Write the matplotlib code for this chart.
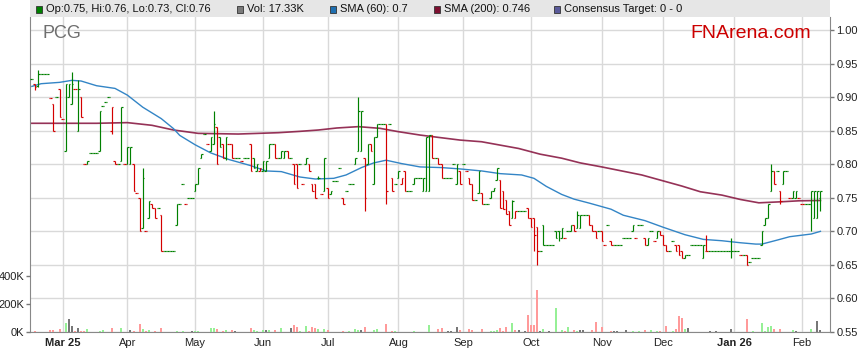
import matplotlib
matplotlib.use("Agg")
import matplotlib.pyplot as plt
from matplotlib.patches import Rectangle
import numpy as np
import pandas as pd

plt.rcParams['font.family'] = ['Liberation Sans', 'DejaVu Sans']

ticker = "PCG"
first_day = "2025-02-17"   # one bar per weekday from here

# daily OHLC
opens = [
    .927, .920, .917, .935, .935, .935, .898, .890, .900, .912,
    .868, .820, .900, .890, .912, .850, .900, .800, .800, .816,
    .816, .816, .820, .887, .893, .900, .850, .805, .800, .805,
    .800, .800, .800, .800, .757, .750, .705, .700, .720, .740,
    .735, .735, .725, .670, .670, .670, .670, .710, .740, .770,
    .740, .750, .750, .760, .770, .810, .845, .830, .820, .830,
    .855, .840, .830, .810, .830, .830, .809, .809, .805, .809,
    .809, .830, .810, .790, .790, .790, .790, .810, .830, .830,
    .809, .809, .809, .820, .809, .800, .800, .800, .770, .800,
    .800, .770, .770, .780, .755, .760, .765, .755, .775, .775,
    .794, .750, .760, .770, .770, .800, .820, .820, .810, .800,
    .830, .770, .840, .860, .860, .860, .860, .780, .770, .780,
    .770, .790, .760, .760, .770, .780, .780, .760, .760, .760,
    .843, .810, .810, .800, .780, .780, .780, .800, .770, .790,
    .800, .790, .780, .770, .746, .757, .757, .740, .740, .750,
    .760, .776, .776, .760, .746, .730, .720, .720, .731, .731,
    .731, .735, .720, .720, .706, .670, .710, .680, .680, .680,
    .700, .700, .690, .690, .700, .700, .710, .705, .705, .725,
    .725, .725, .710, .700, .700, .700, .680, .710, .685, .680,
    .680, .680, .690, .690, .690, .700, .690, .710, .710, .690,
    .680, .700, .686, .690, .700, .694, .680, .670, .686, .680,
    .680, .670, .660, .665, .680, .680, .680, .680, .660, .670,
    .670, .670, .670, .670, .670, .670, .670, .670, .670, .670,
    .665, .665, .665, .655, .660, .660, .660, .680, .710, .720,
    .760, .790, .790, .760, .770, .790, .750, .750, .750, .750,
    .740, .740, .740, .740, .720, .720, .750,
]
highs = [
    .927, .920, .940, .935, .935, .935, .898, .890, .900, .912,
    .868, .920, .920, .937, .912, .925, .900, .800, .805, .816,
    .816, .816, .880, .887, .893, .900, .885, .805, .800, .885,
    .800, .825, .825, .800, .757, .750, .795, .700, .745, .740,
    .735, .735, .725, .670, .670, .670, .670, .740, .740, .770,
    .740, .750, .750, .770, .795, .815, .845, .830, .840, .880,
    .855, .840, .830, .840, .830, .830, .809, .809, .805, .809,
    .809, .830, .810, .800, .795, .805, .805, .830, .830, .830,
    .809, .820, .820, .820, .809, .800, .800, .800, .770, .810,
    .800, .770, .770, .782, .755, .810, .765, .760, .775, .775,
    .794, .750, .760, .770, .770, .810, .900, .880, .810, .830,
    .830, .840, .860, .860, .860, .860, .860, .780, .770, .790,
    .780, .790, .760, .760, .780, .780, .780, .780, .840, .843,
    .843, .810, .810, .800, .780, .780, .780, .800, .800, .790,
    .800, .790, .780, .770, .746, .790, .757, .740, .740, .760,
    .765, .795, .776, .760, .746, .730, .746, .731, .731, .731,
    .731, .735, .720, .720, .706, .670, .710, .680, .680, .680,
    .700, .700, .705, .690, .700, .710, .710, .730, .725, .725,
    .725, .725, .710, .700, .700, .700, .680, .710, .685, .680,
    .680, .680, .690, .690, .690, .710, .690, .710, .710, .690,
    .690, .700, .686, .700, .700, .694, .680, .670, .686, .680,
    .680, .670, .665, .665, .680, .680, .680, .680, .680, .695,
    .670, .670, .670, .670, .670, .670, .670, .690, .670, .670,
    .665, .665, .665, .655, .660, .660, .660, .700, .720, .740,
    .800, .790, .790, .760, .790, .790, .750, .760, .760, .750,
    .740, .740, .740, .760, .760, .760, .760,
]
lows = [
    .927, .910, .915, .935, .935, .935, .898, .850, .900, .871,
    .868, .820, .900, .890, .912, .850, .871, .800, .800, .816,
    .816, .816, .820, .887, .893, .900, .845, .800, .800, .805,
    .800, .800, .800, .760, .757, .700, .705, .700, .720, .735,
    .720, .735, .670, .670, .670, .670, .670, .710, .740, .770,
    .740, .750, .750, .760, .770, .810, .845, .830, .820, .830,
    .800, .825, .810, .807, .830, .809, .809, .809, .805, .809,
    .809, .790, .795, .790, .790, .790, .790, .810, .830, .809,
    .809, .809, .809, .809, .809, .770, .765, .800, .770, .800,
    .790, .760, .750, .778, .755, .760, .750, .755, .775, .775,
    .794, .740, .760, .770, .770, .800, .820, .820, .730, .800,
    .820, .770, .840, .860, .860, .740, .860, .760, .770, .780,
    .770, .760, .760, .760, .770, .780, .780, .760, .760, .760,
    .810, .810, .800, .780, .780, .780, .780, .800, .770, .770,
    .800, .790, .770, .746, .746, .757, .740, .740, .740, .750,
    .760, .776, .735, .733, .726, .710, .720, .720, .731, .731,
    .731, .720, .706, .670, .650, .670, .680, .680, .680, .680,
    .690, .685, .690, .690, .700, .700, .700, .705, .705, .725,
    .725, .710, .700, .690, .700, .685, .680, .710, .680, .680,
    .680, .680, .690, .690, .690, .700, .690, .710, .710, .680,
    .680, .700, .686, .690, .694, .680, .670, .670, .686, .670,
    .665, .660, .660, .665, .680, .680, .680, .680, .660, .670,
    .670, .670, .670, .670, .670, .670, .670, .660, .670, .670,
    .665, .665, .650, .655, .660, .660, .660, .680, .710, .720,
    .760, .770, .790, .740, .770, .790, .750, .750, .750, .750,
    .740, .740, .740, .700, .720, .720, .730,
]
closes = [
    .927, .915, .935, .935, .935, .935, .898, .850, .900, .871,
    .868, .920, .920, .920, .912, .912, .871, .800, .805, .816,
    .816, .816, .880, .887, .893, .900, .885, .800, .800, .885,
    .800, .825, .825, .760, .757, .700, .780, .700, .745, .735,
    .720, .735, .670, .670, .670, .670, .670, .740, .740, .770,
    .740, .750, .750, .770, .795, .815, .845, .830, .840, .860,
    .800, .825, .810, .840, .830, .809, .809, .809, .805, .809,
    .809, .790, .795, .800, .795, .805, .805, .830, .830, .809,
    .809, .820, .820, .809, .809, .770, .765, .800, .770, .810,
    .790, .760, .750, .780, .755, .810, .750, .760, .775, .775,
    .794, .740, .760, .770, .770, .810, .880, .880, .750, .830,
    .820, .840, .860, .860, .860, .760, .860, .760, .770, .790,
    .780, .760, .760, .760, .780, .780, .780, .780, .840, .843,
    .810, .810, .800, .780, .780, .780, .780, .800, .800, .770,
    .800, .790, .770, .746, .746, .790, .740, .740, .740, .760,
    .765, .795, .735, .733, .726, .710, .745, .731, .731, .731,
    .731, .720, .706, .695, .670, .670, .680, .680, .680, .680,
    .690, .700, .705, .690, .700, .710, .700, .725, .725, .725,
    .725, .710, .700, .690, .700, .685, .680, .710, .680, .680,
    .680, .680, .690, .690, .690, .710, .690, .710, .710, .680,
    .690, .700, .686, .700, .694, .680, .670, .670, .686, .670,
    .665, .660, .665, .665, .680, .680, .680, .680, .680, .670,
    .670, .670, .670, .670, .670, .670, .670, .670, .670, .670,
    .665, .665, .650, .655, .660, .660, .660, .700, .720, .740,
    .790, .770, .790, .745, .790, .790, .750, .760, .760, .750,
    .740, .740, .740, .760, .760, .760, .760,
]
# daily volume in thousands of shares
volumes = [
    0, 10, 0, 0, 0, 0, 12, 17, 0, 21,
    0, 67, 93, 43, 10, 29, 10, 10, 24, 0,
    0, 0, 10, 17, 0, 0, 29, 0, 0, 29,
    0, 0, 14, 10, 0, 57, 21, 10, 14, 0,
    10, 0, 29, 0, 0, 0, 0, 7, 0, 7,
    0, 0, 7, 7, 7, 0, 0, 0, 29, 29,
    24, 0, 10, 14, 0, 14, 7, 0, 0, 0,
    0, 29, 14, 10, 0, 14, 14, 14, 0, 14,
    0, 29, 0, 0, 29, 50, 38, 10, 0, 43,
    10, 38, 31, 21, 0, 21, 14, 0, 0, 0,
    0, 10, 0, 7, 0, 21, 17, 12, 38, 0,
    0, 14, 21, 0, 0, 60, 0, 10, 7, 0,
    0, 0, 0, 0, 10, 0, 0, 0, 0, 50,
    0, 0, 21, 29, 0, 10, 10, 0, 36, 14,
    0, 0, 21, 14, 0, 0, 21, 0, 0, 7,
    7, 12, 26, 10, 36, 0, 64, 14, 14, 0,
    10, 121, 50, 50, 298, 10, 21, 0, 7, 0,
    174, 0, 14, 7, 36, 0, 14, 10, 14, 14,
    0, 0, 14, 71, 0, 36, 0, 0, 7, 7,
    7, 0, 0, 14, 0, 7, 0, 7, 0, 14,
    0, 14, 0, 7, 7, 0, 43, 0, 7, 24,
    114, 100, 19, 31, 0, 0, 0, 0, 0, 0,
    7, 0, 7, 0, 0, 0, 0, 21, 0, 0,
    0, 0, 93, 0, 7, 0, 0, 67, 7, 36,
    45, 24, 0, 21, 0, 0, 0, 14, 7, 0,
    0, 0, 0, 21, 0, 79, 17.33,
]

# moving averages sampled along the lines (bar index, value)
sma60_idx = [0, 3, 9, 13, 16, 21, 27, 31, 36, 42, 46, 48, 53, 58, 64, 71, 76, 81,
             87, 92, 98, 102, 107, 111, 115, 120, 126, 133, 139, 146, 152, 159,
             163, 167, 172, 176, 181, 188, 192, 199, 205, 212, 218, 224, 230,
             235, 237, 242, 246, 253, 256]
sma60 = [.916, .920, .922, .925, .924, .917, .913, .903, .885, .868, .853, .843,
         .829, .817, .807, .798, .790, .789, .781, .778, .779, .784, .795, .802,
         .806, .801, .796, .795, .793, .790, .786, .784, .779, .767, .755, .748,
         .742, .733, .724, .716, .706, .695, .688, .686, .683, .681, .681, .687,
         .692, .696, .700]
sma200_idx = [0, 9, 21, 31, 39, 46, 54, 67, 80, 87, 93, 99, 106, 113, 119, 126,
              132, 139, 146, 152, 158, 165, 172, 178, 185, 198, 211, 217, 224,
              230, 236, 243, 249, 256]
sma200 = [.861, .861, .861, .862, .858, .851, .846, .845, .847, .849, .851, .854,
          .856, .8535, .8485, .8435, .840, .836, .8335, .8285, .8235, .815, .809,
          .802, .796, .784, .7675, .759, .754, .7475, .7425, .744, .7455, .746]

GREEN = '#008000'
RED = '#d40000'

n = len(closes)
x = np.arange(n)
prev = np.array([closes[0]] + closes[:-1])
c = np.array(closes)
bar_cols = [GREEN if c[k] >= prev[k] else RED for k in range(n)]
vol_cols = ['#96f096' if c[k] > prev[k] else ('#ff9a9a' if c[k] < prev[k] else '#777777')
            for k in range(n)]

# figure: 859 x 363 px
fig = plt.figure(figsize=(8.59, 3.63), dpi=100)
L, R, B, T = 30 / 859, 830 / 859, 1 - 332 / 363, 1 - 17 / 363
ax = fig.add_axes([L, B, R - L, T - B])
ax_vol = ax.twinx()

# price axis on the right
ax.set_xlim(-0.6, 259.1)
ax.set_ylim(0.55, 1.0194)
ax.yaxis.tick_right()
ax.set_yticks(np.arange(0.55, 1.001, 0.05))
ax.set_yticklabels([f"{v:.2f}" for v in np.arange(0.55, 1.001, 0.05)])
ax.tick_params(axis='y', direction='out', length=3, width=1, color='#777777',
               pad=1.5, labelsize=8, labelcolor='#222222')
ax.grid(True, color='#d9d9d9', lw=1)
ax.set_axisbelow(True)

# month ticks
dates = pd.bdate_range(first_day, periods=n)
tick_pos, tick_lab = [], []
for k in range(1, n):
    if dates[k].month != dates[k - 1].month:
        tick_pos.append(k)
        if dates[k].month == 1 or not tick_lab:
            tick_lab.append(dates[k].strftime("%b %y"))
        else:
            tick_lab.append(dates[k].strftime("%b"))
ax.set_xticks(tick_pos)
ax.set_xticklabels(tick_lab)
ax.tick_params(axis='x', length=0, pad=4, labelsize=8, labelcolor='#222222')
for lab in ax.get_xticklabels():
    if ' ' in lab.get_text():
        lab.set_fontweight('bold')

for s in ['left', 'right', 'bottom']:
    ax.spines[s].set_color('#888888')
ax.spines['top'].set_visible(False)

# moving averages
ax.plot(sma200_idx, sma200, color='#8a1c45', lw=1.2, alpha=0.9, zorder=2)
ax.plot(sma60_idx, sma60, color='#3385c6', lw=1.0, zorder=2)

# OHLC bars
ax.vlines(x, lows, highs, colors=bar_cols, lw=0.85, zorder=3)
ax.hlines(opens, x - 0.5, x, colors=bar_cols, lw=0.85, zorder=3)
ax.hlines(closes, x, x + 0.5, colors=bar_cols, lw=0.85, zorder=3)

# volume on the left
ax_vol.bar(x, volumes, width=0.65, color=vol_cols, lw=0)
ax_vol.set_ylim(0, 2250)
ax_vol.yaxis.tick_left()
ax_vol.set_yticks([0, 200, 400])
ax_vol.set_yticklabels(["0K", "200K", "400K"])
ax_vol.tick_params(axis='y', direction='out', length=3, width=1, color='#777777',
                   pad=1, labelsize=8, labelcolor='#222222')
for s in ax_vol.spines.values():
    s.set_visible(False)

# header band with legend
fig.patches.append(Rectangle((L, T), R - L, 1 - T, transform=fig.transFigure,
                             facecolor='#e6e6e6', edgecolor='none'))
legend_items = [
    (GREEN, f"Op:{opens[-1]:.2f}, Hi:{highs[-1]:.2f}, Lo:{lows[-1]:.2f}, Cl:{closes[-1]:.2f}", 36),
    ('#7a7a7a', f"Vol: {volumes[-1]:.2f}K", 237),
    ('#1f6fb0', f"SMA (60): {sma60[-1]:g}", 330),
    ('#7d1030', f"SMA (200): {sma200[-1]:g}", 434),
    ('#5a5a9a', "Consensus Target: 0 - 0", 554),
]
yc = 1 - 9.5 / 363
for col, txt, px in legend_items:
    fig.patches.append(Rectangle((px / 859, yc - 3 / 363), 6 / 859, 6 / 363,
                                 transform=fig.transFigure, facecolor=col,
                                 edgecolor='#333333', lw=0.6))
    fig.text((px + 10) / 859, yc, txt, fontsize=8, va='center', ha='left', color='#111111')

fig.text(42 / 859, 1 - 33 / 363, ticker, fontsize=13, color='#6e6e6e', va='center')
fig.text(690 / 859, 1 - 34 / 363, "FNArena.com", fontsize=14, color='#cc0000', va='center')

fig.savefig("out.png", dpi=100)
